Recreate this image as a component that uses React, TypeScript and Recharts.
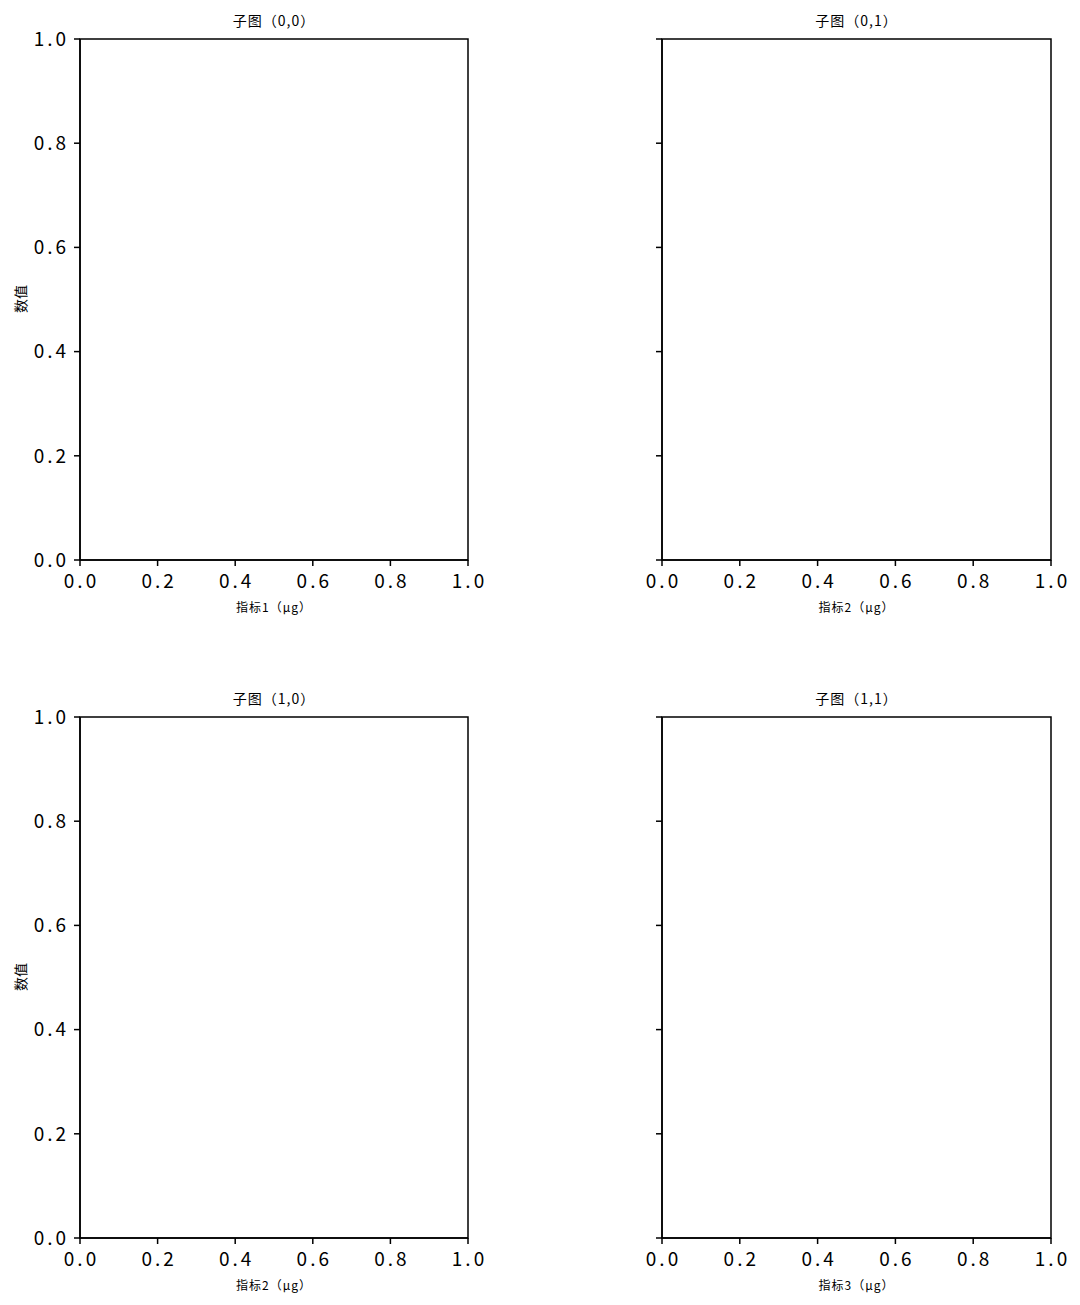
import { ReferenceArea, Scatter, ScatterChart, XAxis, YAxis } from "recharts"

const TICKS = [0, 0.2, 0.4, 0.6, 0.8, 1.0]
const TITLES = ["子图（0,0）", "子图（0,1）", "子图（1,0）", "子图（1,1）"]
const X_LABELS = ["指标1（μg）", "指标2（μg）", "指标2（μg）", "指标3（μg）"]
const Y_LABEL = "数值"
// 每个子图都没有数据点
const SERIES: { x: number; y: number }[][] = [[], [], [], []]

const FONT = '"Noto Sans CJK SC", "Noto Sans", sans-serif'
const COL_LEFT = [0, 580]
const ROW_TOP = [0, 678]
const CHART_W = 500
const CHART_H = 627
const Y_AXIS_W = 60

function Panel({ idx }: { idx: number }) {
  const row = Math.floor(idx / 2)
  const col = idx % 2
  const left = COL_LEFT[col]
  const top = ROW_TOP[row]
  const marginLeft = col === 0 ? 20 : 22
  const marginRight = col === 0 ? 32 : 29
  const plotX0 = left + marginLeft + Y_AXIS_W
  const plotX1 = left + CHART_W - marginRight
  const cx = (plotX0 + plotX1) / 2

  return (
    <>
      <div
        style={{
          position: "absolute",
          left: cx - 100,
          width: 200,
          top: top + 10,
          textAlign: "center",
          fontFamily: FONT,
          fontSize: 14,
          lineHeight: "20px",
          letterSpacing: 1,
          color: "#000",
        }}
      >
        {TITLES[idx]}
      </div>
      {col === 0 && (
        <div
          style={{
            position: "absolute",
            left: 20 - 50,
            top: top + 39 + 260 - 10,
            width: 100,
            height: 20,
            lineHeight: "20px",
            textAlign: "center",
            transform: "rotate(-90deg)",
            fontFamily: FONT,
            fontSize: 14,
            color: "#000",
          }}
        >
          {Y_LABEL}
        </div>
      )}
      <div style={{ position: "absolute", left, top }}>
        <ScatterChart
          width={CHART_W}
          height={CHART_H}
          margin={{ top: 39, right: marginRight, bottom: 0, left: marginLeft }}
        >
          <XAxis
            type="number"
            dataKey="x"
            domain={[0, 1]}
            ticks={TICKS}
            tickFormatter={(v: number) => v.toFixed(1)}
            height={67}
            tickSize={6}
            tickMargin={9}
            stroke="#000"
            axisLine={{ stroke: "#000", strokeWidth: 1.5 }}
            tickLine={{ stroke: "#000", strokeWidth: 1.5 }}
            tick={{ fill: "#000", fontSize: 19, fontFamily: FONT, letterSpacing: 3, dx: 1.5 }}
            label={{
              value: X_LABELS[idx],
              position: "insideBottom",
              offset: 15,
              fill: "#000",
              fontSize: 12,
              fontFamily: FONT,
              letterSpacing: 1,
            }}
            allowDataOverflow
          />
          <YAxis
            type="number"
            dataKey="y"
            domain={[0, 1]}
            ticks={TICKS}
            tickFormatter={(v: number) => (col === 0 ? v.toFixed(1) : "")}
            width={Y_AXIS_W}
            tickSize={6}
            tickMargin={5}
            stroke="#000"
            axisLine={{ stroke: "#000", strokeWidth: 1.5 }}
            tickLine={{ stroke: "#000", strokeWidth: 1.5 }}
            tick={{ fill: "#000", fontSize: 19, fontFamily: FONT, letterSpacing: 3 }}
            allowDataOverflow
          />
          <ReferenceArea
            x1={0}
            x2={1}
            y1={0}
            y2={1}
            fill="none"
            stroke="#000"
            strokeWidth={1.5}
            ifOverflow="visible"
          />
          <Scatter data={SERIES[idx]} fill="#1f77b4" isAnimationActive={false} />
        </ScatterChart>
      </div>
    </>
  )
}

export default function App() {
  return (
    <div
      style={{
        position: "absolute",
        left: 0,
        top: 0,
        width: 1080,
        height: 1305,
        background: "#fff",
        overflow: "hidden",
      }}
    >
      {TITLES.map((_, i) => (
        <Panel key={i} idx={i} />
      ))}
    </div>
  )
}
